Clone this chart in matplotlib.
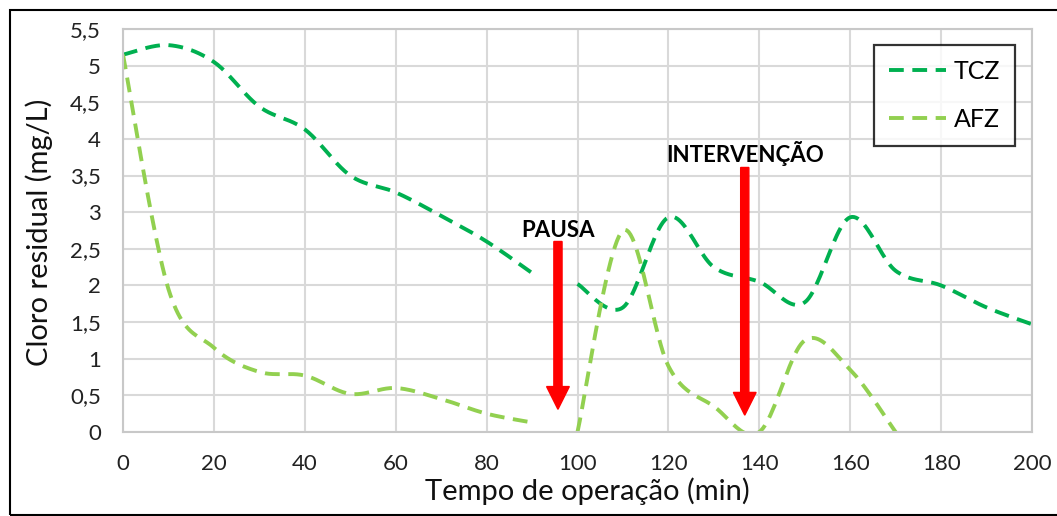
"""
Cloro residual vs tempo de operacao (TCZ / AFZ)
"""
import numpy as np
import matplotlib
matplotlib.use('Agg')
import matplotlib.pyplot as plt
from matplotlib.patches import Rectangle

# --- data (every 10 min; gap between 90 and 100) ---
t_a      = [0, 10, 20, 30, 40, 50, 60, 70, 80, 90]
tcz_a    = [5.15, 5.28, 5.05, 4.44, 4.13, 3.50, 3.27, 2.95, 2.60, 2.17]
afz_a    = [5.15, 1.95, 1.15, 0.82, 0.77, 0.52, 0.60, 0.45, 0.25, 0.13]

t_tcz_b  = [100, 110, 120, 130, 140, 150, 160, 170, 180, 190, 200]
tcz_b    = [2.02, 1.70, 2.93, 2.25, 2.05, 1.77, 2.93, 2.20, 2.00, 1.70, 1.47]

t_afz_b  = [100, 110, 120, 130, 140, 150, 160, 170]
afz_b    = [0.00, 2.75, 0.90, 0.35, 0.00, 1.25, 0.85, 0.00]

x_ticks  = list(range(0, 201, 20))
y_ticks  = [i * 0.5 for i in range(12)]

# annotations: (label, x, arrow top, arrow tip, label y)
notes = [('PAUSA', 95.7, 2.60, 0.31, 2.75),
         ('INTERVENÇÃO', 136.8, 3.61, 0.23, 3.80)]

TCZ_COL = '#00B050'
AFZ_COL = '#92D050'
GRID    = '#D9D9D9'
FONT    = ['Lato', 'DejaVu Sans']


def smooth(x, y, n=24):
    # excel-style smoothed line (catmull-rom through the points)
    x = np.asarray(x, float); y = np.asarray(y, float)
    px = np.r_[x[0], x, x[-1]]; py = np.r_[y[0], y, y[-1]]
    s = np.linspace(0, 1, n, endpoint=False)
    xs, ys = [], []
    for i in range(1, len(px) - 2):
        for arr, out in ((px, xs), (py, ys)):
            p0, p1, p2, p3 = arr[i-1], arr[i], arr[i+1], arr[i+2]
            out.extend(0.5 * (2*p1 + (-p0 + p2)*s
                              + (2*p0 - 5*p1 + 4*p2 - p3)*s**2
                              + (-p0 + 3*p1 - 3*p2 + p3)*s**3))
    xs.append(x[-1]); ys.append(y[-1])
    return np.array(xs), np.array(ys)


plt.rcParams['font.family'] = FONT
fig = plt.figure(figsize=(10.57, 5.16), dpi=100)
ax = fig.add_axes([123/1057, 84/516, 909/1057, 403/516])

style = dict(lw=2.8, dashes=(3.8, 2.2), dash_capstyle='butt', solid_capstyle='butt')
ax.plot(*smooth(t_a, tcz_a), color=TCZ_COL, label='TCZ', **style)
ax.plot(*smooth(t_tcz_b, tcz_b), color=TCZ_COL, **style)
ax.plot(*smooth(t_a, afz_a), color=AFZ_COL, label='AFZ', **style)
ax.plot(*smooth(t_afz_b, afz_b), color=AFZ_COL, **style)

for label, x, top, tip, ly in notes:
    ax.arrow(x, top, 0, tip - top, width=1.8, head_width=5.0, head_length=0.31,
             length_includes_head=True, color='#FF0000', zorder=5)
    ax.text(x, ly, label, ha='center', va='center', fontsize=16,
            fontweight='bold', color='black')

ax.set_xlim(0, 200)
ax.set_ylim(0, 5.5)
ax.set_xticks(x_ticks)
ax.set_yticks(y_ticks)
ax.set_yticklabels([('%g' % v).replace('.', ',') for v in y_ticks])
ax.tick_params(length=0, labelsize=16, pad=16, colors='#222222')
ax.grid(True, color=GRID, lw=1.5)
ax.set_axisbelow(True)
for sp in ax.spines.values():
    sp.set_color('#C8C8C8'); sp.set_linewidth(1.5)

ax.set_xlabel('Tempo de operação (min)', fontsize=21, color='#111111')
ax.xaxis.set_label_coords((587-123)/909, -0.112)
ax.set_ylabel('Cloro residual (mg/L)', fontsize=21, color='#111111')
ax.yaxis.set_label_coords(-0.077, 0.495)

leg = ax.legend(loc='upper right', bbox_to_anchor=((1015-123)/909, (432-45)/403),
                borderaxespad=0, fancybox=False, fontsize=18, handlelength=2.3,
                labelspacing=1.0, handletextpad=0.3, borderpad=0.6)
leg.get_frame().set_edgecolor('black')
leg.get_frame().set_linewidth(1.6)

# outer frame of the original figure
fig.patches.append(Rectangle((10/1057, 1/516), 1.2, 505/516, transform=fig.transFigure,
                             fill=False, ec='black', lw=1.5, clip_on=False))

fig.savefig('out.png', dpi=100)
